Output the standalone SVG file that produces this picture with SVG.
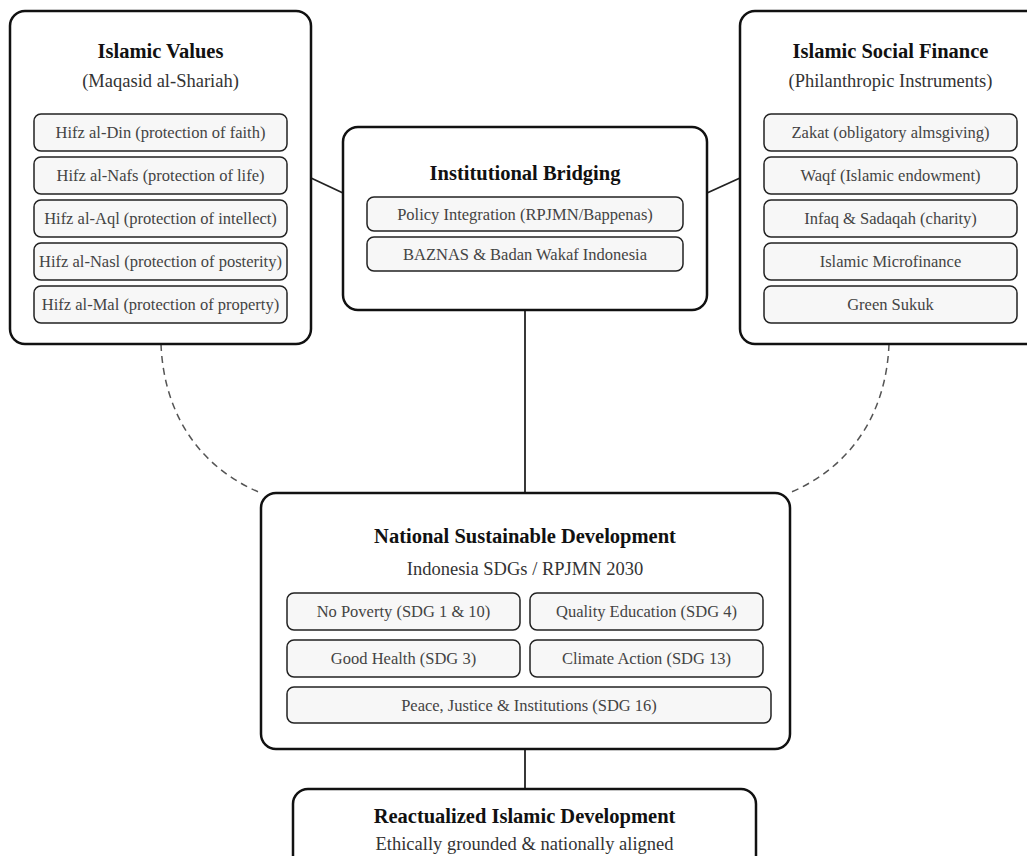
<svg xmlns="http://www.w3.org/2000/svg" width="1027" height="856" viewBox="0 0 1027 856">
<style>
.outer{fill:#fff;stroke:#111;stroke-width:2.5}
.inner{fill:#f7f7f7;stroke:#222;stroke-width:1.5}
.title{font-family:"Liberation Serif","Times New Roman",serif;font-weight:bold;font-size:20.5px;fill:#111;text-anchor:middle}
.sub{font-family:"Liberation Serif","Times New Roman",serif;font-size:18.5px;fill:#333;text-anchor:middle}
.item{font-family:"Liberation Serif","Times New Roman",serif;font-size:16.5px;fill:#444;text-anchor:middle}
.line{fill:none;stroke:#222;stroke-width:1.8}
.dash{fill:none;stroke:#555;stroke-width:1.5;stroke-dasharray:7 5}
</style>
<rect width="1027" height="856" fill="#fff"/>
<g id="connectors">
<line class="line" x1="311" y1="178" x2="343" y2="193"/>
<line class="line" x1="707" y1="193" x2="740" y2="178"/>
<line class="line" x1="525" y1="310" x2="525" y2="493"/>
<line class="line" x1="525" y1="749" x2="525" y2="789"/>
<path class="dash" d="M161,344 C164,420 205,470 261,493"/>
<path class="dash" d="M889,344 C886,420 845,470 789,493"/>
</g>
<g id="islamic-values">
<rect class="outer" x="10" y="11" width="301" height="333" rx="15"/>
<text class="title" x="160.5" y="58">Islamic Values</text>
<text class="sub" x="160.5" y="87">(Maqasid al-Shariah)</text>
<rect class="inner" x="34" y="114" width="253" height="37" rx="7"/>
<text class="item" x="160.5" y="138">Hifz al-Din (protection of faith)</text>
<rect class="inner" x="34" y="157" width="253" height="37" rx="7"/>
<text class="item" x="160.5" y="181">Hifz al-Nafs (protection of life)</text>
<rect class="inner" x="34" y="200" width="253" height="37" rx="7"/>
<text class="item" x="160.5" y="224">Hifz al-Aql (protection of intellect)</text>
<rect class="inner" x="34" y="243" width="253" height="37" rx="7"/>
<text class="item" x="160.5" y="267">Hifz al-Nasl (protection of posterity)</text>
<rect class="inner" x="34" y="286" width="253" height="37" rx="7"/>
<text class="item" x="160.5" y="310">Hifz al-Mal (protection of property)</text>
</g>
<g id="institutional-bridging">
<rect class="outer" x="343" y="127" width="364" height="183" rx="15"/>
<text class="title" x="525" y="180">Institutional Bridging</text>
<rect class="inner" x="367" y="197" width="316" height="34" rx="7"/>
<text class="item" x="525" y="220">Policy Integration (RPJMN/Bappenas)</text>
<rect class="inner" x="367" y="237" width="316" height="34" rx="7"/>
<text class="item" x="525" y="260">BAZNAS &amp; Badan Wakaf Indonesia</text>
</g>
<g id="islamic-social-finance">
<rect class="outer" x="740" y="11" width="301" height="333" rx="15"/>
<text class="title" x="890.5" y="58">Islamic Social Finance</text>
<text class="sub" x="890.5" y="87">(Philanthropic Instruments)</text>
<rect class="inner" x="764" y="114" width="253" height="37" rx="7"/>
<text class="item" x="890.5" y="138">Zakat (obligatory almsgiving)</text>
<rect class="inner" x="764" y="157" width="253" height="37" rx="7"/>
<text class="item" x="890.5" y="181">Waqf (Islamic endowment)</text>
<rect class="inner" x="764" y="200" width="253" height="37" rx="7"/>
<text class="item" x="890.5" y="224">Infaq &amp; Sadaqah (charity)</text>
<rect class="inner" x="764" y="243" width="253" height="37" rx="7"/>
<text class="item" x="890.5" y="267">Islamic Microfinance</text>
<rect class="inner" x="764" y="286" width="253" height="37" rx="7"/>
<text class="item" x="890.5" y="310">Green Sukuk</text>
</g>
<g id="national-sustainable-development">
<rect class="outer" x="261" y="493" width="529" height="256" rx="15"/>
<text class="title" x="525" y="543">National Sustainable Development</text>
<text class="sub" x="525" y="575">Indonesia SDGs / RPJMN 2030</text>
<rect class="inner" x="287" y="593" width="233" height="37" rx="7"/>
<text class="item" x="403.5" y="617">No Poverty (SDG 1 &amp; 10)</text>
<rect class="inner" x="530" y="593" width="233" height="37" rx="7"/>
<text class="item" x="646.5" y="617">Quality Education (SDG 4)</text>
<rect class="inner" x="287" y="640" width="233" height="37" rx="7"/>
<text class="item" x="403.5" y="664">Good Health (SDG 3)</text>
<rect class="inner" x="530" y="640" width="233" height="37" rx="7"/>
<text class="item" x="646.5" y="664">Climate Action (SDG 13)</text>
<rect class="inner" x="287" y="687" width="484" height="36" rx="7"/>
<text class="item" x="529" y="711">Peace, Justice &amp; Institutions (SDG 16)</text>
</g>
<g id="reactualized-islamic-development">
<rect class="outer" x="293" y="789" width="463" height="90" rx="15"/>
<text class="title" x="524.5" y="823">Reactualized Islamic Development</text>
<text class="sub" x="524.5" y="850">Ethically grounded &amp; nationally aligned</text>
</g>
</svg>
